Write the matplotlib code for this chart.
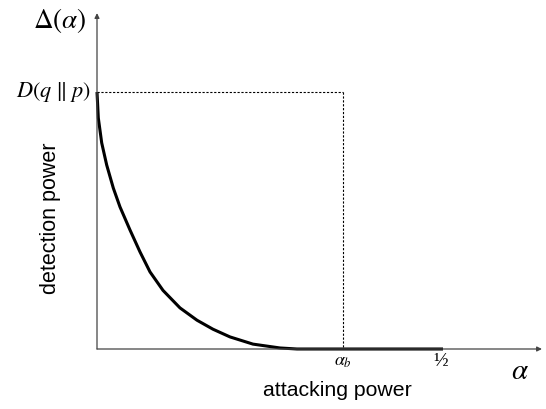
import matplotlib
matplotlib.use("Agg")
import matplotlib.pyplot as plt

plt.rcParams['mathtext.fontset'] = 'stix'
plt.rcParams['font.family'] = ['Liberation Sans', 'DejaVu Sans']

# schematic curve: detection power Delta(alpha) vs attacking power alpha
alpha = [0.0, 0.0019, 0.0068, 0.0140, 0.0236, 0.0332, 0.0477, 0.0621, 0.0766,
         0.0954, 0.1199, 0.1445, 0.1676, 0.1922, 0.2254, 0.2645, 0.289,
         0.355, 0.5]
delta = [1.0, 0.899, 0.802, 0.716, 0.626, 0.553, 0.463, 0.378, 0.300,
         0.228, 0.160, 0.112, 0.077, 0.047, 0.019, 0.004, 0.0,
         0.0, 0.0]
alpha_b = 0.355
alpha_half = 0.5
D_qp = 1.0

fig = plt.figure(figsize=(5.46, 4.09), dpi=100)
ax = fig.add_axes([0, 0, 1, 1])
ax.set_xlim(-97 / 692, (546 - 97) / 692)
ax.set_ylim((349 - 409) / 257, 349 / 257)
ax.axis('off')

# axes arrows
ax.annotate('', xy=(0.643, 0), xytext=(0, 0),
            arrowprops=dict(arrowstyle='-|>', color='#444444', lw=0.9,
                            mutation_scale=7, shrinkA=0, shrinkB=0))
ax.annotate('', xy=(0, 1.307), xytext=(0, 0),
            arrowprops=dict(arrowstyle='-|>', color='#444444', lw=0.9,
                            mutation_scale=7, shrinkA=0, shrinkB=0))

# dotted guides
ax.plot([0, alpha_b], [D_qp, D_qp], color='black', lw=0.8, ls=(0, (2, 1.5)))
ax.plot([alpha_b, alpha_b], [D_qp, 0], color='black', lw=0.8, ls=(0, (2, 1.5)))

# curve
ax.plot(alpha, delta, color='black', lw=2.2, solid_capstyle='butt',
        solid_joinstyle='round')

# texts
ax.text(-0.0535, 1.28, r'$\Delta(\alpha)$', fontsize=19.5, ha='center', va='center')
ax.text(-0.009, D_qp, r'$D(q\;\Vert\;p)$', fontsize=16, ha='right', va='center')
ax.text(-0.0665, 0.51, 'detection power', fontsize=15.5, rotation=90,
        ha='center', va='center')
ax.text(0.348, -0.163, 'attacking power', fontsize=15.3, ha='center', va='center')
ax.text(alpha_b, -0.05, r'$\alpha_b$', fontsize=13, ha='center', va='center')
ax.text(0.497, -0.047, '½', fontsize=14, ha='center', va='center',
        family=['Liberation Serif', 'DejaVu Serif'])
ax.text(0.611, -0.086, r'$\alpha$', fontsize=21, ha='center', va='center')

fig.savefig('out.png', dpi=100)
